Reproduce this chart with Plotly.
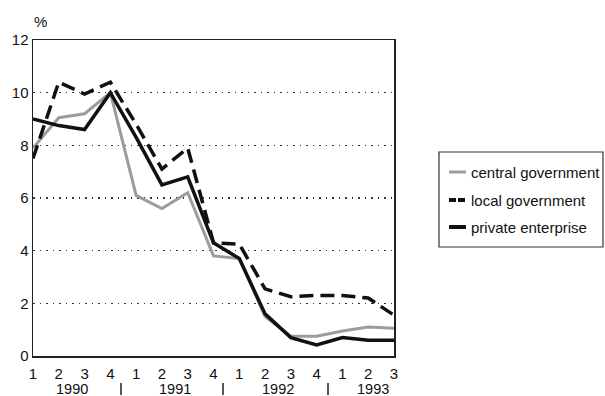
import plotly.graph_objects as go

quarters = ["1", "2", "3", "4", "1", "2", "3", "4", "1", "2", "3", "4", "1", "2", "3"]
years = ["1990", "1991", "1992", "1993"]
central_government = [7.9, 9.05, 9.2, 10.0, 6.1, 5.6, 6.2, 3.8, 3.7, 1.5, 0.75, 0.75, 0.95, 1.1, 1.05]
local_government = [7.5, 10.4, 9.95, 10.4, 8.8, 7.1, 7.9, 4.3, 4.25, 2.55, 2.25, 2.3, 2.3, 2.2, 1.55]
private_enterprise = [9.0, 8.75, 8.6, 10.0, 8.3, 6.5, 6.8, 4.3, 3.7, 1.6, 0.7, 0.42, 0.7, 0.6, 0.6]
series_names = ["central government", "local government", "private enterprise"]

x = list(range(len(quarters)))
FONT = "Liberation Sans, Arial, Helvetica, sans-serif"
INK = "#111111"

styles = [
    dict(color="#9c9c9c", width=3),
    dict(color=INK, width=3.5, dash="14px,7px"),
    dict(color=INK, width=3.5),
]
key_styles = [
    dict(color="#9c9c9c", width=3),
    dict(color=INK, width=4, dash="7px,2px"),
    dict(color=INK, width=4),
]

fig = go.Figure()
for name, vals, st in zip(series_names, [central_government, local_government, private_enterprise], styles):
    fig.add_trace(go.Scatter(x=x, y=vals, mode="lines", name=name, line=st, showlegend=False,
                             hoverinfo="skip"))

# pixel -> paper helpers (plot area: x 33..394, y 40..356)
L, R, T, B = 33, 394, 40, 356
def px(v):
    return (v - L) / (R - L)
def py(v):
    return (B - v) / (B - T)

annotations = []
shapes = []
year_pos = [1.5, 5.5, 9.5, 13.2]
for yr, p in zip(years, year_pos):
    annotations.append(dict(x=p, y=py(388.5), xref="x", yref="paper", text=yr, showarrow=False,
                            font=dict(size=14.5, color=INK), xanchor="center", yanchor="middle"))
# year separators
for sx in [121, 223, 328]:
    shapes.append(dict(type="line", xref="paper", yref="paper", x0=px(sx), x1=px(sx),
                       y0=py(395), y1=py(383), line=dict(color=INK, width=1.4)))
annotations.append(dict(x=px(40), y=py(22), xref="paper", yref="paper", text="%", showarrow=False,
                        font=dict(size=15, color=INK), xanchor="center", yanchor="middle"))

# legend drawn as box + keys + labels
shapes.append(dict(type="rect", xref="paper", yref="paper", x0=px(439), x1=px(603), y0=py(247), y1=py(152),
                   line=dict(color="#333", width=1.2), fillcolor="white", layer="above"))
rows = [172, 200, 227]
for name, ry, ks in zip(series_names, rows, key_styles):
    shapes.append(dict(type="line", xref="paper", yref="paper", x0=px(449), x1=px(466), y0=py(ry), y1=py(ry),
                       line=ks, layer="above"))
    annotations.append(dict(x=px(469), y=py(ry), xref="paper", yref="paper", text=name, showarrow=False,
                            font=dict(size=15, color=INK), xanchor="left", yanchor="middle"))

fig.update_layout(
    width=605, height=396,
    margin=dict(l=L, r=605 - R, t=T, b=396 - B, autoexpand=False),
    paper_bgcolor="white", plot_bgcolor="white",
    font=dict(family=FONT, size=15, color=INK),
    showlegend=False,
    hovermode=False,
    annotations=annotations,
    shapes=shapes,
)
fig.update_xaxes(range=[0, 14], tickmode="array", tickvals=x, ticktext=quarters,
                 showgrid=False, zeroline=False, showline=True, linecolor="#222",
                 linewidth=1.5, mirror=True, ticks="", tickfont=dict(size=15),
                 ticklabelstandoff=3, automargin=False)
fig.update_yaxes(range=[0, 12], tickvals=[0, 2, 4, 6, 8, 10, 12],
                 showgrid=True, gridcolor="#333", griddash="1.5px,5px", gridwidth=1.5,
                 zeroline=False, showline=True, linecolor="#222", linewidth=1.5,
                 mirror=True, ticks="", tickfont=dict(size=15), ticklabelstandoff=0,
                 automargin=False)

fig.write_html("out.html",
               config={"staticPlot": True, "displayModeBar": False},
               post_script="document.body.style.margin='0';document.body.style.overflow='hidden';")
